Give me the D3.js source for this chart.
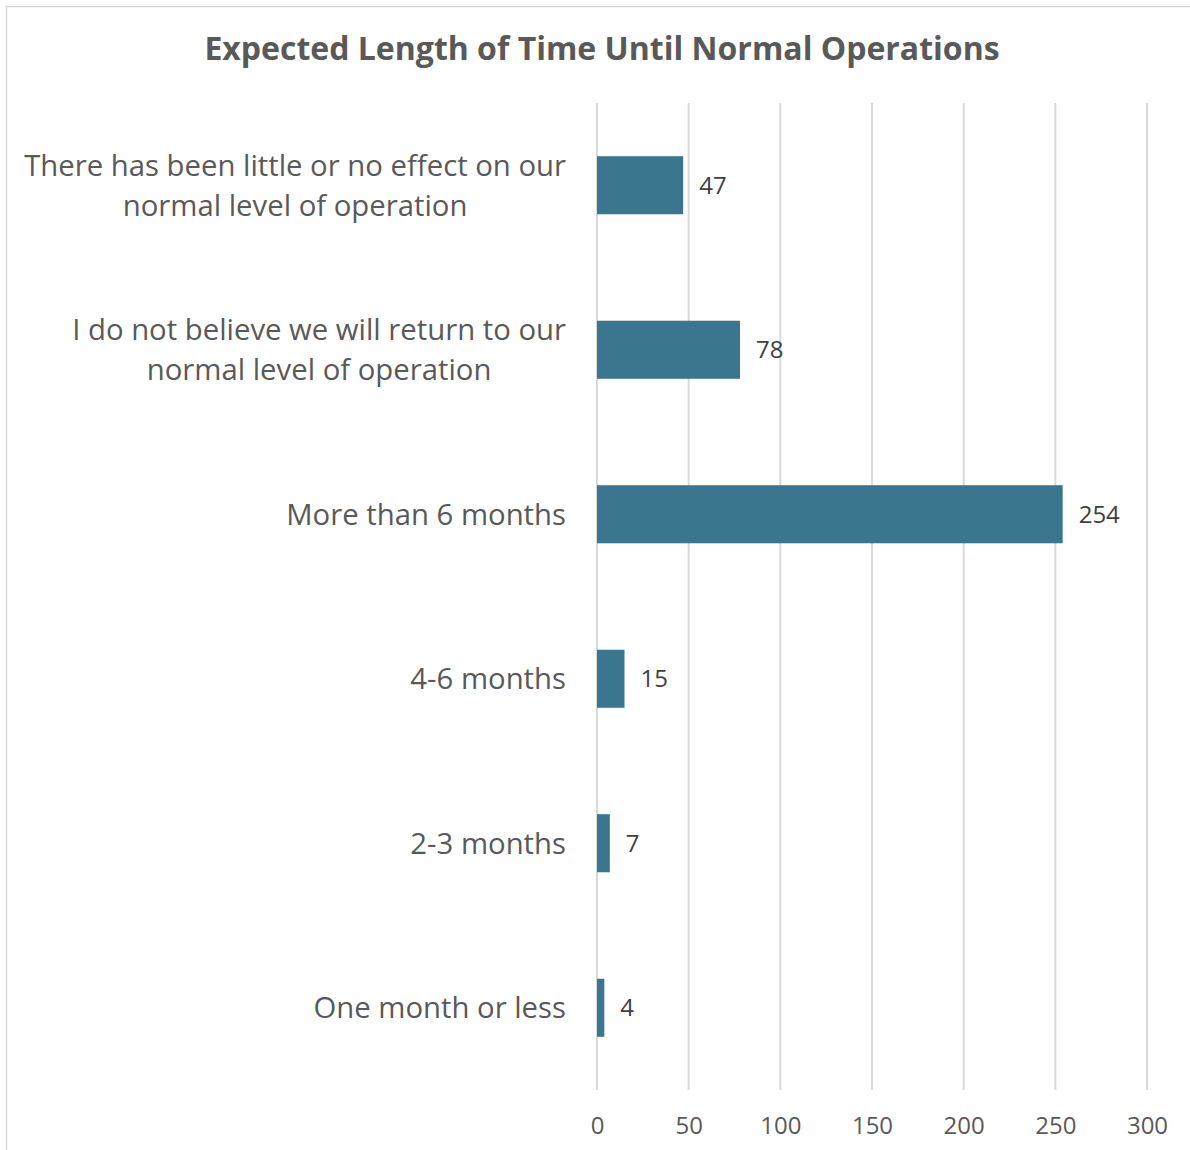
<!DOCTYPE html>
<html><head><meta charset="utf-8">
<script src="https://cdn.jsdelivr.net/npm/d3@7"></script>
<style>
html,body{margin:0;padding:0;background:#fff;}
svg{display:block;font-family:"Open Sans",sans-serif;}
</style></head>
<body>
<svg id="chart" width="1190" height="1150"></svg>
<script>
const title = "Expected Length of Time Until Normal Operations";
const categories = [
  ["There has been little or no effect on our", "normal level of operation"],
  ["I do not believe we will return to our", "normal level of operation"],
  ["More than 6 months"],
  ["4-6 months"],
  ["2-3 months"],
  ["One month or less"]
];
const values = [47, 78, 254, 15, 7, 4];
const tickValues = [0, 50, 100, 150, 200, 250, 300];

const svg = d3.select("#chart");
svg.append("rect").attr("x",6.5).attr("y",6.5).attr("width",1300).attr("height",1300)
  .attr("fill","none").attr("stroke","#d9d9d9").attr("stroke-width",1.5);

const x = d3.scaleLinear().domain([0,300]).range([597,1147]);
const y = d3.scaleBand().domain(d3.range(categories.length)).range([103,1090]).paddingInner(0.647).paddingOuter(0.3235);

// gridlines
svg.append("g").selectAll("line").data(tickValues).join("line")
  .attr("x1",d=>x(d)).attr("x2",d=>x(d)).attr("y1",103).attr("y2",1090)
  .attr("stroke","#d9d9d9").attr("stroke-width",2);

// axis labels
const xAxis = d3.axisBottom(x).tickValues(tickValues).tickSize(0).tickPadding(0);
const gx = svg.append("g").attr("transform","translate(0,1126)").call(xAxis);
gx.select(".domain").remove();
gx.selectAll("text").attr("font-size",24).attr("fill","#595959").attr("font-family","Open Sans").attr("dy","0.35em");

// bars
svg.append("g").selectAll("rect").data(values).join("rect")
  .attr("x",x(0)).attr("y",(d,i)=>y(i)).attr("width",d=>x(d)-x(0)).attr("height",y.bandwidth())
  .attr("fill","#3b768f");

// value labels
svg.append("g").selectAll("text").data(values).join("text")
  .attr("x",d=>x(d)+16).attr("y",(d,i)=>y(i)+y.bandwidth()/2).attr("dy","0.35em")
  .attr("font-size",24).attr("fill","#404040").text(d=>d);

// category labels
const cg = svg.append("g");
categories.forEach((lines,i)=>{
  const cy = y(i)+y.bandwidth()/2;
  const t = cg.append("text").attr("font-size",29.3).attr("fill","#595959").attr("text-anchor","middle");
  const n = lines.length;
  const spans = lines.map((l,j)=>
    t.append("tspan").attr("x",0).attr("y",cy+(j-(n-1)/2)*40).attr("dy","0.35em").text(l));
  const w = d3.max(spans, s=>s.node().getComputedTextLength());
  spans.forEach(s=>s.attr("x", 566 - w/2));
});

svg.append("text").attr("x",602).attr("y",49).attr("dy","0.35em").attr("text-anchor","middle")
  .attr("font-size",32).attr("font-weight","bold").attr("fill","#595959").text(title);
</script>
</body></html>
